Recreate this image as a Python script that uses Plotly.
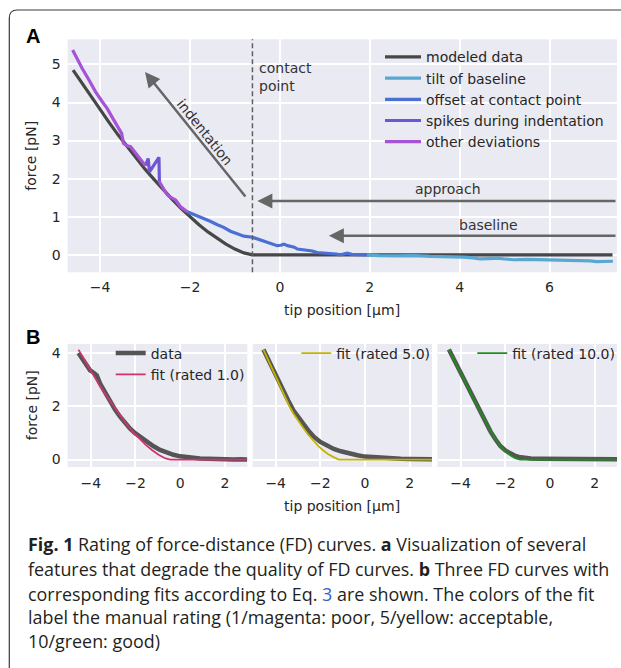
import plotly.graph_objects as go

# ---------------- data ----------------
# Panel A
modeled_x = [-4.6, -4.4, -4.2, -4.0, -3.8, -3.6, -3.4, -3.2, -3.0, -2.8, -2.6, -2.4, -2.2,
             -2.0, -1.8, -1.6, -1.4, -1.2, -1.0, -0.8, -0.61, 7.4]
modeled_y = [4.85, 4.50, 4.15, 3.81, 3.48, 3.15, 2.84, 2.54, 2.25, 1.98, 1.71, 1.46, 1.22,
             1.00, 0.79, 0.60, 0.43, 0.28, 0.15, 0.05, 0.0, 0.0]

tilt_x = [1.94, 2.2, 2.61, 3.0, 3.35, 3.7, 4.09, 4.3, 4.46, 4.65, 4.83, 5.0, 5.2, 5.5,
          5.94, 6.3, 6.68, 6.9, 7.05, 7.25, 7.41]
tilt_y = [0.0, -0.02, -0.03, -0.02, -0.04, -0.04, -0.06, -0.08, -0.11, -0.10, -0.09, -0.11,
          -0.13, -0.12, -0.13, -0.15, -0.16, -0.16, -0.18, -0.17, -0.17]

offset_x = [-2.06, -1.95, -1.85, -1.69, -1.55, -1.39, -1.25, -1.10, -0.95, -0.80, -0.61, -0.50,
            -0.36, -0.25, -0.17, -0.06, 0.02, 0.09, 0.17, 0.24, 0.32, 0.39, 0.50, 0.61, 0.72,
            0.83, 0.95, 1.05, 1.13, 1.25, 1.35, 1.42, 1.50, 1.60, 1.72, 1.83, 1.94]
offset_y = [1.13, 1.08, 1.03, 0.96, 0.88, 0.79, 0.72, 0.62, 0.56, 0.49, 0.46, 0.42, 0.36, 0.33,
            0.30, 0.24, 0.25, 0.28, 0.24, 0.22, 0.20, 0.15, 0.14, 0.11, 0.10, 0.06, 0.05, 0.03,
            0.04, 0.02, 0.0, 0.02, 0.04, 0.01, 0.0, 0.01, 0.0]

spikes_x = [-2.99, -2.93, -2.90, -2.69, -2.68]
spikes_y = [2.34, 2.53, 2.18, 2.56, 1.92]

other_x = [-4.61, -4.50, -4.40, -4.24, -4.10, -3.95, -3.84, -3.70, -3.58, -3.52, -3.48, -3.44,
           -3.39, -3.32, -3.25, -3.17, -3.10, -3.02, -2.99, None,
           -2.68, -2.62, -2.58, -2.52, -2.46, -2.40, -2.32, -2.26, -2.21, -2.14, -2.06]
other_y = [5.38, 5.12, 4.90, 4.58, 4.28, 4.02, 3.84, 3.55, 3.32, 3.19, 2.93, 2.90, 2.86, 2.84,
           2.74, 2.62, 2.52, 2.40, 2.34, None,
           1.92, 1.80, 1.70, 1.60, 1.53, 1.50, 1.44, 1.34, 1.26, 1.20, 1.13]

contact_point = -0.61
a_names = ["modeled data", "tilt of baseline", "offset at contact point",
           "spikes during indentation", "other deviations"]
a_ticks_x = [-4, -2, 0, 2, 4, 6]
a_ticks_y = [0, 1, 2, 3, 4, 5]

# Panel B
b1_data_x = [-4.55, -4.40, -4.25, -4.10, -4.03, -3.90, -3.73, -3.58, -3.35, -3.13, -2.90, -2.68,
             -2.45, -2.24, -2.00, -1.79, -1.50, -1.19, -0.90, -0.60, -0.30, 0.0, 0.45, 0.89,
             1.25, 1.64, 2.0, 2.4, 2.7, 3.0]
b1_data_y = [4.00, 3.82, 3.60, 3.42, 3.35, 3.28, 3.16, 2.85, 2.50, 2.16, 1.86, 1.60, 1.36, 1.16,
             0.98, 0.85, 0.68, 0.50, 0.36, 0.25, 0.18, 0.12, 0.07, 0.04, 0.03, 0.01, 0.02, 0.0,
             0.01, 0.0]
b1_fit_x = [-4.55, -4.25, -3.95, -3.65, -3.35, -3.05, -2.75, -2.45, -2.15, -1.85, -1.55, -1.25,
            -0.95, -0.65, -0.45, 3.0]
b1_fit_y = [4.13, 3.69, 3.26, 2.85, 2.46, 2.09, 1.72, 1.38, 1.07, 0.80, 0.56, 0.35, 0.17, 0.04,
            0.0, 0.0]

b2_data_x = [-4.55, -4.32, -4.1, -3.88, -3.66, -3.44, -3.21, -2.97, -2.72, -2.50, -2.28, -2.0,
             -1.68, -1.40, -1.08, -0.70, -0.34, 0.0, 0.40, 0.80, 1.15, 1.6, 2.0, 2.5, 3.0]
b2_data_y = [4.13, 3.72, 3.35, 2.98, 2.60, 2.22, 1.85, 1.55, 1.29, 1.05, 0.85, 0.66, 0.50, 0.40,
             0.31, 0.22, 0.16, 0.11, 0.08, 0.06, 0.04, 0.03, 0.02, 0.01, 0.01]
b2_fit_x = [-4.55, -4.32, -4.1, -3.88, -3.66, -3.44, -3.21, -3.0, -2.78, -2.56, -2.34, -2.11,
            -1.88, -1.66, -1.43, -1.30, -1.17, 3.0]
b2_fit_y = [4.13, 3.70, 3.29, 2.88, 2.48, 2.10, 1.73, 1.45, 1.20, 0.95, 0.72, 0.52, 0.35, 0.21,
            0.10, 0.04, 0.0, 0.0]

b3_data_x = [-4.52, -4.26, -4.0, -3.78, -3.55, -3.32, -3.1, -2.87, -2.65, -2.43, -2.21, -1.98,
             -1.76, -1.58, -1.39, -1.1, -0.86, -0.4, 0.2, 1.0, 2.0, 3.0]
b3_data_y = [4.13, 3.70, 3.29, 2.88, 2.48, 2.10, 1.73, 1.38, 1.04, 0.75, 0.50, 0.33, 0.22, 0.15,
             0.10, 0.06, 0.04, 0.03, 0.02, 0.02, 0.01, 0.01]
b3_fit_x = [-4.52, -4.26, -4.0, -3.78, -3.55, -3.32, -3.1, -2.87, -2.65, -2.43, -2.21, -1.98,
            -1.76, -1.55, -1.34, 3.0]
b3_fit_y = [4.13, 3.71, 3.30, 2.90, 2.50, 2.12, 1.75, 1.40, 1.05, 0.76, 0.50, 0.30, 0.15, 0.05,
            0.0, 0.0]

b_fit_names = ["fit (rated 1.0)", "fit (rated 5.0)", "fit (rated 10.0)"]
b_ticks_x = [-4, -2, 0, 2]
b_ticks_y = [0, 2, 4]

caption_lines = [
    "<b>Fig. 1</b> Rating of force-distance (FD) curves. <b>a</b> Visualization of several",
    "features that degrade the quality of FD curves. <b>b</b> Three FD curves with",
    "corresponding fits according to Eq. <span style='color:#2f5fd0'>3</span> are shown. The colors of the fit",
    "label the manual rating (1/magenta: poor, 5/yellow: acceptable,",
    "10/green: good)",
]

# ---------------- styling ----------------
W, H = 621, 668
def px(p):
    return p / W
def py(p):
    return 1 - p / H

TXT = "#262626"
FONT = "DejaVu Sans"
FS = 14
BG = "#EAEAF2"

c_model = "#474747"
c_tilt = "#58a8d4"
c_offset = "#4a70d6"
c_spikes = "#6f55d4"
c_other = "#a653d6"
c_data = "#555555"
c_fits = ["#d0336e", "#c4b400", "#1f8c1f"]

fig = go.Figure()

# Panel A traces
a_series = [(modeled_x, modeled_y, c_model), (tilt_x, tilt_y, c_tilt),
            (offset_x, offset_y, c_offset), (spikes_x, spikes_y, c_spikes),
            (other_x, other_y, c_other)]
for name, (sx, sy, col) in zip(a_names, a_series):
    fig.add_trace(go.Scatter(x=sx, y=sy, mode="lines", name=name,
                             line=dict(color=col, width=3.2), xaxis="x", yaxis="y",
                             legend="legend"))

# Panel B traces
b_sets = [(b1_data_x, b1_data_y, b1_fit_x, b1_fit_y),
          (b2_data_x, b2_data_y, b2_fit_x, b2_fit_y),
          (b3_data_x, b3_data_y, b3_fit_x, b3_fit_y)]
for i, (dx, dy, fx, fy) in enumerate(b_sets):
    xa = "x%d" % (i + 2)
    ya = "y%d" % (i + 2)
    lg = "legend%d" % (i + 2)
    fig.add_trace(go.Scatter(x=dx, y=dy, mode="lines", name="data",
                             line=dict(color=c_data, width=4.5), xaxis=xa, yaxis=ya,
                             legend=lg, showlegend=(i == 0)))
    fig.add_trace(go.Scatter(x=fx, y=fy, mode="lines", name=b_fit_names[i],
                             line=dict(color=c_fits[i], width=1.8), xaxis=xa, yaxis=ya,
                             legend=lg))

axis_common = dict(showgrid=True, gridcolor="white", gridwidth=1.6, zeroline=False,
                   showline=False, ticks="", fixedrange=True,
                   tickfont=dict(family=FONT, size=FS, color=TXT))

b_xdomains = [[px(67.7), px(247.3)], [px(252.7), px(432)], [px(437.5), px(617)]]
b_ydomain = [py(467), py(344)]

layout = dict(
    width=W, height=H, margin=dict(l=0, r=0, t=0, b=0),
    paper_bgcolor="white", plot_bgcolor=BG,
    font=dict(family=FONT, size=FS, color=TXT),
    xaxis=dict(axis_common, domain=[px(67.7), px(617)], range=[-4.72, 7.5],
               tickvals=a_ticks_x, anchor="y", ticklabelstandoff=5),
    yaxis=dict(axis_common, domain=[py(272.3), py(39.3)], range=[-0.46, 5.66],
               tickvals=a_ticks_y, anchor="x", ticklabelstandoff=6),
)
for i in range(3):
    n = i + 2
    layout["xaxis%d" % n] = dict(axis_common, domain=b_xdomains[i], range=[-5.03, 3.0],
                                 tickvals=b_ticks_x, anchor="y%d" % n, ticklabelstandoff=6)
    yd = dict(axis_common, domain=b_ydomain, range=[-0.28, 4.34], tickvals=b_ticks_y,
              anchor="x%d" % n, ticklabelstandoff=6)
    if i > 0:
        yd["showticklabels"] = False
        yd["matches"] = "y2"
    layout["yaxis%d" % n] = yd

leg_common = dict(xanchor="left", yanchor="top", bgcolor="rgba(0,0,0,0)",
                  font=dict(family=FONT, size=FS, color=TXT), borderwidth=0)
layout["legend"] = dict(leg_common, x=px(380), y=py(41.3), itemwidth=36)
layout["legend2"] = dict(leg_common, x=px(110.7), y=py(337.5))
layout["legend3"] = dict(leg_common, x=px(296.3), y=py(337.5))
layout["legend4"] = dict(leg_common, x=px(472.3), y=py(337.5))
fig.update_layout(**layout)

# frame around the figure (rounded corner, runs off right and bottom)
r = 8
path = (f"M {px(9.3)},{py(680)} L {px(9.3)},{py(10 + r)} "
        f"Q {px(9.3)},{py(10)} {px(9.3 + r)},{py(10)} L {px(640)},{py(10)}")
fig.add_shape(type="path", path=path, xref="paper", yref="paper",
              line=dict(color="#3a3a3a", width=1.2))

# contact point dashed line
fig.add_shape(type="line", x0=contact_point, x1=contact_point, y0=0, y1=1,
              xref="x", yref="y domain", line=dict(color="#5f5f5f", width=1.5, dash="5px,3px"))

ann = []
def paper_text(text, xc, yc, font, angle=0):
    return dict(text=text, x=px(xc), y=py(yc), xref="paper", yref="paper",
                xanchor="center", yanchor="middle", textangle=angle,
                showarrow=False, font=font)

letter_font = dict(family="Liberation Sans", size=20, color="black")
ann.append(paper_text("<b>A</b>", 33.3, 36, letter_font))
ann.append(paper_text("<b>B</b>", 33.3, 337, letter_font))
axt_font = dict(family=FONT, size=FS, color=TXT)
ann.append(paper_text("tip position [µm]", 342.4, 310, axt_font))
ann.append(paper_text("tip position [µm]", 342.4, 505.7, axt_font))
ann.append(paper_text("force [pN]", 31, 155.8, axt_font, -90))
ann.append(paper_text("force [pN]", 31.7, 405.5, axt_font, -90))

# arrows in panel A
arrow_col = "#666666"
arrows = [(-3.0, 4.80, -0.74, 1.49), (-0.50, 1.41, 7.5, 1.41), (1.09, 0.50, 7.5, 0.50)]
for (hx, hy, tx, ty) in arrows:
    ann.append(dict(text="", x=hx, y=hy, ax=tx, ay=ty, xref="x", yref="y", axref="x", ayref="y",
                    showarrow=True, arrowhead=2, arrowsize=1.2, arrowwidth=2.5,
                    arrowcolor=arrow_col, standoff=0, startstandoff=0))
ann_font = dict(family=FONT, size=FS, color="#333333")
def data_text(text, x, y, angle=0, xanchor="center"):
    return dict(text=text, x=x, y=y, xref="x", yref="y", showarrow=False,
                xanchor=xanchor, yanchor="middle", align="left", textangle=angle,
                font=ann_font)
ann.append(data_text("indentation", -1.67, 3.23, 51.4))
ann.append(data_text("approach", 3.74, 1.73))
ann.append(data_text("baseline", 4.64, 0.77))
ann.append(data_text("contact<br>point", -0.50, 4.66, 0, "left"))

# caption
cap_y = [543.5, 569, 593.7, 617.3, 641.3]
for t, yy in zip(caption_lines, cap_y):
    ann.append(dict(text=t, x=px(26), y=py(yy), xref="paper", yref="paper", showarrow=False,
                    xanchor="left", yanchor="middle", align="left",
                    font=dict(family="Open Sans", size=17.9, color="#231f20")))

fig.update_layout(annotations=ann)

fig.write_html("out.html", config={"displayModeBar": False},
               post_script="document.body.style.margin='0';document.body.style.overflow='hidden';")
